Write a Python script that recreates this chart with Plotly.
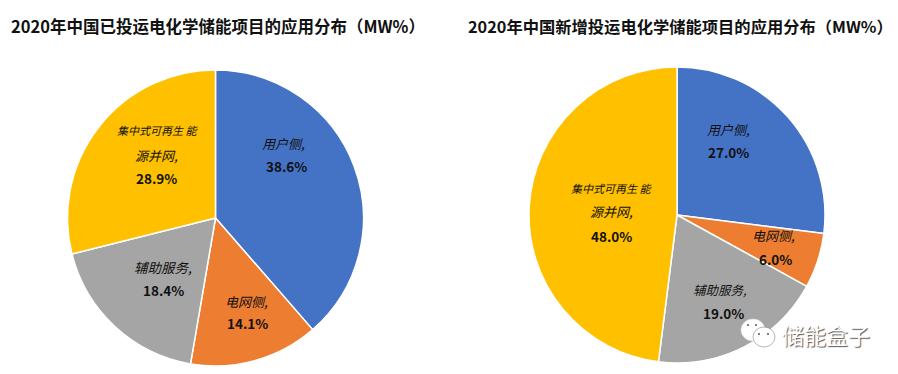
import plotly.graph_objects as go

labels = ["用户侧", "电网侧", "辅助服务", "集中式可再生能源并网"]
values_left = [38.6, 14.1, 18.4, 28.9]
values_right = [27.0, 6.0, 19.0, 48.0]
colors = ["#4472C4", "#ED7D31", "#A5A5A5", "#FFC000"]
title_left = "2020年中国已投运电化学储能项目的应用分布（MW%）"
title_right = "2020年中国新增投运电化学储能项目的应用分布（MW%）"
watermark = "储能盒子"

W, H = 898, 374
OFF = 8          # the page's own body margin
PW, PH = W - OFF, H - 2 * OFF
FONT = "Noto Sans CJK SC, Liberation Sans, sans-serif"
INK = "#111111"

def fx(px):
    return (px - OFF) / PW

def fy(py):
    return 1 - (py - OFF) / PH

def pie(values, cx, cy, r):
    return go.Pie(labels=labels, values=values, textinfo="none",
                  sort=False, direction="clockwise", rotation=0,
                  marker=dict(colors=colors, line=dict(color="white", width=1.5)),
                  domain=dict(x=[fx(cx - r), fx(cx + r)], y=[fy(cy + r), fy(cy - r)]),
                  showlegend=False)

fig = go.Figure([pie(values_left, 215.5, 218, 148), pie(values_right, 677, 215, 148)])

def note(text, x, y, size=13, color=INK, **kw):
    fig.add_annotation(text=text, x=fx(x), y=fy(y), xref="paper", yref="paper",
                       xanchor="center", yanchor="middle", showarrow=False,
                       font=dict(size=size, color=color, family=FONT, **kw))

note(f"<b>{title_left}</b>", 218, 26, size=16.5)
note(f"<b>{title_right}</b>", 680, 26, size=16.3)

# name line(s) and value line of each slice label
note("<i>用户侧,</i>", 283, 143)
note(f"<b>{values_left[0]:.1f}%</b>", 286, 166, size=13.5)
note("<i>电网侧,</i>", 246, 301)
note(f"<b>{values_left[1]:.1f}%</b>", 247, 323, size=13.5)
note("<i>辅助服务,</i>", 163, 267, size=13.5)
note(f"<b>{values_left[2]:.1f}%</b>", 163, 290, size=13.5)
note("<i>集中式可再生 能</i>", 157, 130, size=11)
note("<i>源并网,</i>", 156, 155)
note(f"<b>{values_left[3]:.1f}%</b>", 156, 178, size=13.5)

note("<i>用户侧,</i>", 728, 129)
note(f"<b>{values_right[0]:.1f}%</b>", 728, 152, size=13.5)
note("<i>电网侧,</i>", 773, 235)
note(f"<b>{values_right[1]:.1f}%</b>", 775, 259, size=13.5)
note("<i>辅助服务,</i>", 720, 289, size=12.5)
note(f"<b>{values_right[2]:.1f}%</b>", 723, 313, size=13.5)
note("<i>集中式可再生 能</i>", 611, 188, size=11)
note("<i>源并网,</i>", 611, 212)
note(f"<b>{values_right[3]:.1f}%</b>", 611, 236, size=13.5)

note(watermark, 826, 334, size=22, color="white", shadow="1px 1px 1px #555555")

def circle(x0, y0, x1, y1, fill="white", line="#888888", width=0.6):
    fig.add_shape(type="circle", xref="paper", yref="paper",
                  x0=fx(x0), x1=fx(x1), y0=fy(y1), y1=fy(y0),
                  fillcolor=fill, line=dict(color=line, width=width))

# WeChat mark
circle(741, 319, 765, 341, line="#DDDDDD")
circle(753, 327, 775, 347)
for ex, ey in [(748, 325), (756, 325), (759, 334), (768, 334)]:
    circle(ex - 1, ey - 1, ex + 1, ey + 1, fill="#555555", line="#555555", width=0)

fig.update_layout(width=PW, height=PH, margin=dict(l=0, r=0, t=0, b=0), paper_bgcolor="white")
fig.write_html("out.html")
